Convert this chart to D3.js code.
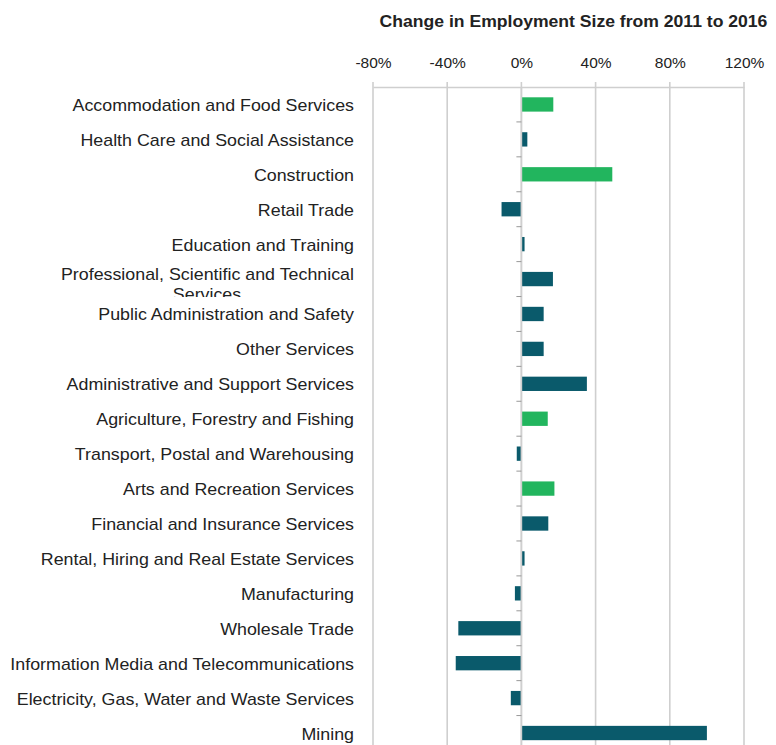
<!DOCTYPE html>
<html>
<head>
<meta charset="utf-8">
<script src="https://cdn.jsdelivr.net/npm/d3@7"></script>
<style>
  html, body { margin: 0; padding: 0; background: #fff; }
  svg { display: block; font-family: "Liberation Sans", Arial, Helvetica, sans-serif; }
</style>
</head>
<body>
<svg id="chart" width="776" height="745"></svg>
<script>
// Industries, top to bottom
const industries = [
  "Accommodation and Food Services",
  "Health Care and Social Assistance",
  "Construction",
  "Retail Trade",
  "Education and Training",
  "Professional, Scientific and Technical Services",
  "Public Administration and Safety",
  "Other Services",
  "Administrative and Support Services",
  "Agriculture, Forestry and Fishing",
  "Transport, Postal and Warehousing",
  "Arts and Recreation Services",
  "Financial and Insurance Services",
  "Rental, Hiring and Real Estate Services",
  "Manufacturing",
  "Wholesale Trade",
  "Information Media and Telecommunications",
  "Electricity, Gas, Water and Waste Services",
  "Mining"
];

// Percentage change in employment, 2011 to 2016
const changePct = [17.2, 3.2, 49, -10.7, 1.7, 17, 12, 12, 35.3, 14.2, -2.5, 17.8, 14.5, 1.7, -3.5, -34, -35.4, -5.7, 100];

// Highlighted industries (drawn in green)
const highlighted = [
  "Accommodation and Food Services",
  "Construction",
  "Agriculture, Forestry and Fishing",
  "Arts and Recreation Services"
];

const tickValues = [-80, -40, 0, 40, 80, 120];
const titleText = "Change in Employment Size from 2011 to 2016";

const svg = d3.select("#chart");
const textColor = "#222";
const greenColor = "#22b55e";
const tealColor = "#0a5a6b";
const gridColor = "#cfcfcf";

const x = d3.scaleLinear().domain([-80, 120]).range([373, 744]);
const y = d3.scaleBand().domain(industries).range([87, 87 + 19 * 34.92]).paddingInner(0.59).paddingOuter(0.295);

// Title (slightly widened lettering)
svg.append("text")
  .attr("transform", "translate(573.5,27) scale(1.1,1)")
  .attr("text-anchor", "middle")
  .attr("font-size", 16).attr("font-weight", "bold")
  .attr("fill", textColor)
  .text(titleText);

// Top axis with gridlines
const axisTop = d3.axisTop(x)
  .tickValues(tickValues)
  .tickFormat(d => d + "%")
  .tickSize(0)
  .tickPadding(0);

const gAxis = svg.append("g").attr("transform", "translate(0,87)").call(axisTop);
gAxis.select(".domain").attr("stroke", gridColor).attr("stroke-width", 1.5);
gAxis.selectAll(".tick text")
  .attr("y", -19)
  .attr("font-size", 15.5)
  .attr("font-family", "'Liberation Sans', Arial, sans-serif")
  .attr("fill", textColor);

svg.append("g").selectAll("line")
  .data(tickValues)
  .join("line")
  .attr("x1", d => x(d)).attr("x2", d => x(d))
  .attr("y1", 82).attr("y2", 745)
  .attr("stroke", gridColor)
  .attr("stroke-width", 1.6);

// Bars
svg.append("g").selectAll("rect")
  .data(industries)
  .join("rect")
  .attr("x", (d, i) => x(Math.min(0, changePct[i])))
  .attr("width", (d, i) => Math.abs(x(changePct[i]) - x(0)))
  .attr("y", d => y(d))
  .attr("height", y.bandwidth())
  .attr("fill", d => highlighted.includes(d) ? greenColor : tealColor);

// Zero baseline with category separator ticks
svg.append("line")
  .attr("x1", x(0)).attr("x2", x(0))
  .attr("y1", 87).attr("y2", 745)
  .attr("stroke", gridColor).attr("stroke-width", 1.6);

svg.append("g").selectAll("line")
  .data(industries.slice(1))
  .join("line")
  .attr("x1", x(0) - 5).attr("x2", x(0))
  .attr("y1", d => y(d) - y.step() * y.paddingInner() / 2)
  .attr("y2", d => y(d) - y.step() * y.paddingInner() / 2)
  .attr("stroke", "#999").attr("stroke-width", 1);

// Category labels, right-aligned, in a horizontally widened group
const labelX = 354;
const hScale = 1.115;
const step = y.step();
const defs = svg.append("defs");
const labels = svg.append("g").attr("transform", `translate(${labelX},0) scale(${hScale},1)`);

industries.forEach((name, i) => {
  const cy = y(name) + y.bandwidth() / 2;
  if (name.length > 42) {
    // Long label wraps onto a second line, clipped at the row edge
    const clipId = "clip-" + i;
    defs.append("clipPath").attr("id", clipId)
      .append("rect")
      .attr("x", -400).attr("y", cy - step / 2)
      .attr("width", 400).attr("height", cy + 18 - (cy - step / 2));
    const words = name.split(" ");
    const line1 = words.slice(0, -1).join(" ");
    const line2 = words[words.length - 1];
    const t = labels.append("text")
      .attr("clip-path", "url(#" + clipId + ")")
      .attr("font-size", 16).attr("fill", textColor);
    t.append("tspan").attr("x", 0).attr("y", cy + 1).attr("text-anchor", "end").text(line1);
    t.append("tspan").attr("x", (207 - labelX) / hScale).attr("y", cy + 21).attr("text-anchor", "middle").text(line2);
  } else {
    labels.append("text")
      .attr("x", 0).attr("y", cy + 6.5)
      .attr("text-anchor", "end")
      .attr("font-size", 16).attr("fill", textColor)
      .text(name);
  }
});
</script>
</body>
</html>
